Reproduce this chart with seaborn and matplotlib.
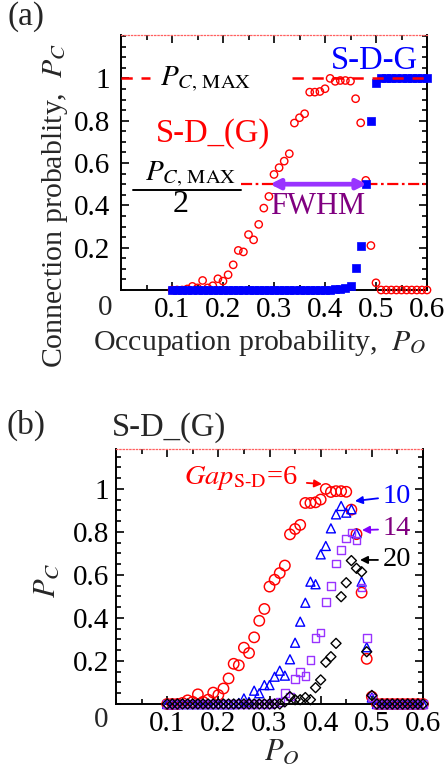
import matplotlib
matplotlib.use("Agg")
import matplotlib.pyplot as plt
import seaborn as sns
from matplotlib.lines import Line2D
from matplotlib.ticker import FixedLocator, MultipleLocator

# ---------------- data ----------------
po = [0.10, 0.11, 0.12, 0.13, 0.14, 0.15, 0.16, 0.17, 0.18, 0.19,
      0.20, 0.21, 0.22, 0.23, 0.24, 0.25, 0.26, 0.27, 0.28, 0.29,
      0.30, 0.31, 0.32, 0.33, 0.34, 0.35, 0.36, 0.37, 0.38, 0.39,
      0.40, 0.41, 0.42, 0.43, 0.44, 0.45, 0.46, 0.47, 0.48, 0.49,
      0.50, 0.51, 0.52, 0.53, 0.54, 0.55, 0.56, 0.57, 0.58, 0.59, 0.60]

# S-D_(G), Gap_S-D = 6
pc_gap6 = [0.0, 0.0, 0.0, 0.005, 0.017, 0.01, 0.045, 0.01, 0.02, 0.053,
           0.042, 0.072, 0.119, 0.187, 0.18, 0.262, 0.237, 0.31, 0.387, 0.442,
           0.546, 0.578, 0.609, 0.644, 0.789, 0.814, 0.833, 0.935, 0.935, 0.938,
           0.951, 1.0, 0.986, 0.99, 0.99, 0.987, 0.904, 0.79, 0.518, 0.21,
           0.034, 0.0, 0.0, 0.0, 0.0, 0.0, 0.0, 0.0, 0.0, 0.0, 0.0]

# S-D-G
pc_sdg = [0.0, 0.0, 0.0, 0.0, 0.0, 0.0, 0.0, 0.0, 0.0, 0.0,
          0.0, 0.0, 0.0, 0.0, 0.0, 0.0, 0.0, 0.0, 0.0, 0.0,
          0.0, 0.0, 0.0, 0.0, 0.0, 0.0, 0.0, 0.0, 0.0, 0.0,
          0.0, 0.0, 0.005, 0.006, 0.008, 0.02, 0.105, 0.21, 0.5, 0.798,
          0.98, 1.0, 1.0, 1.0, 1.0, 1.0, 1.0, 1.0, 1.0, 1.0, 1.0]

# Gap_S-D = 10
pc_gap10 = [0.0, 0.0, 0.0, 0.0, 0.0, 0.0, 0.0, 0.0, 0.0, 0.0,
            0.0, 0.0, 0.0, 0.0, 0.005, 0.026, 0.01, 0.062, 0.05, 0.088,
            0.088, 0.127, 0.155, 0.132, 0.208, 0.285, 0.383, 0.471, 0.569, 0.557,
            0.696, 0.735, 0.817, 0.882, 0.921, 0.89, 0.906, 0.794, 0.569, 0.264,
            0.03, 0.0, 0.0, 0.0, 0.0, 0.0, 0.0, 0.0, 0.0, 0.0, 0.0]

# Gap_S-D = 14
pc_gap14 = [0.0, 0.0, 0.0, 0.0, 0.0, 0.0, 0.0, 0.0, 0.0, 0.0,
            0.0, 0.0, 0.0, 0.0, 0.0, 0.0, 0.0, 0.0, 0.0, 0.0,
            0.0, 0.005, 0.01, 0.05, 0.035, 0.115, 0.15, 0.13, 0.205, 0.306,
            0.333, 0.473, 0.549, 0.654, 0.716, 0.77, 0.797, 0.76, 0.541, 0.306,
            0.03, 0.0, 0.0, 0.0, 0.0, 0.0, 0.0, 0.0, 0.0, 0.0, 0.0]

# Gap_S-D = 20
pc_gap20 = [0.0, 0.0, 0.0, 0.0, 0.0, 0.0, 0.0, 0.0, 0.0, 0.0,
            0.0, 0.0, 0.0, 0.0, 0.0, 0.0, 0.0, 0.0, 0.0, 0.0,
            0.0, 0.0, 0.0, 0.01, 0.034, 0.02, 0.02, 0.03, 0.02, 0.076,
            0.112, 0.194, 0.22, 0.282, 0.499, 0.564, 0.667, 0.631, 0.615, 0.243,
            0.04, 0.0, 0.0, 0.0, 0.0, 0.0, 0.0, 0.0, 0.0, 0.0, 0.0]

xticks = [0.1, 0.2, 0.3, 0.4, 0.5, 0.6]
xticklabels = ["0.1", "0.2", "0.3", "0.4", "0.5", "0.6"]
yticks = [0.2, 0.4, 0.6, 0.8, 1.0]
yticklabels = ["0.2", "0.4", "0.6", "0.8", "1"]
pc_max = 1.0

# ---------------- style ----------------
sns.set_theme(style="ticks")
plt.rcParams["font.family"] = ["Liberation Serif", "DejaVu Serif"]
plt.rcParams["mathtext.fontset"] = "stix"

RED = "#ff0000"
BLUE = "#0000ff"
VIOLET = "#9933ff"
PURPLE = "#800080"

W, H = 445, 769
fig = plt.figure(figsize=(W / 100, H / 100), dpi=100)
fig.patch.set_facecolor("white")


def fpos(x, y):
    return x / W, 1 - y / H


def ftext(x, y, s, **kw):
    kw.setdefault("ha", "center")
    kw.setdefault("va", "center")
    fig.text(*fpos(x, y), s, **kw)


ax_a = fig.add_axes([121 / W, 1 - 290 / H, 306 / W, 255 / H])
ax_b = fig.add_axes([116 / W, 1 - 704 / H, 307 / W, 255 / H])


def style(ax, ymax, ypad):
    ax.set_xlim(0, 0.6)
    ax.set_ylim(0, ymax)
    ax.xaxis.set_major_locator(FixedLocator(xticks))
    ax.set_xticklabels(xticklabels)
    ax.xaxis.set_minor_locator(MultipleLocator(0.05))
    ax.yaxis.set_major_locator(FixedLocator(yticks))
    ax.set_yticklabels(yticklabels)
    ax.yaxis.set_minor_locator(MultipleLocator(0.05))
    ax.tick_params(which="both", direction="in", top=True, right=True,
                   width=1.2, color="black")
    ax.tick_params(which="major", length=6)
    ax.tick_params(which="minor", length=3.5)
    ax.tick_params(axis="x", labelsize=21, pad=5, colors="black")
    ax.tick_params(axis="y", labelsize=21, pad=ypad, colors="black")
    for side in ["left", "right", "bottom"]:
        ax.spines[side].set_color("black")
        ax.spines[side].set_linewidth(1.4)
    ax.spines["top"].set_color("#ff6060")
    ax.spines["top"].set_linestyle(":")
    ax.spines["top"].set_linewidth(0.9)
    ax.set_xlabel("")
    ax.set_ylabel("")
    ax.set_facecolor("white")


# ---------------- panel (a) ----------------
sns.scatterplot(x=po, y=pc_gap6, ax=ax_a, marker="o", s=28, color=RED,
                facecolor="none", edgecolor=RED, linewidth=1.0,
                clip_on=False, zorder=3, legend=False)
sns.scatterplot(x=po, y=pc_sdg, ax=ax_a, marker="s", s=27, color=BLUE,
                edgecolor=BLUE, linewidth=0.5, clip_on=False, zorder=4,
                legend=False)

ax_a.axhline(pc_max, xmin=0, xmax=0.095, color=RED, lw=1.8,
             ls=(0, (4.5, 3.5)), zorder=5)
ax_a.axhline(pc_max, xmin=0.559, xmax=1, color=RED, lw=1.8,
             ls=(0, (4.5, 3.5)), zorder=5)
ax_a.axhline(pc_max / 2, xmin=0.392, xmax=1, color=RED, lw=1.6,
             ls=(0, (5, 1.6, 1.2, 1.6)), zorder=2)

ax_a.annotate("", xy=(0.292, pc_max / 2), xytext=(0.482, pc_max / 2),
              arrowprops=dict(arrowstyle="<|-|>", color=VIOLET, lw=3.4,
                              mutation_scale=14, shrinkA=0, shrinkB=0),
              zorder=6)

style(ax_a, 1.205, 8)

ftext(374, 61, "S-D-G", color=BLUE, fontsize=23.5)
ftext(206, 79, r"$P_{C,\,\mathrm{MAX}}$", color="black", fontsize=21)
ftext(213, 134, "S-D_(G)", color=RED, fontsize=23.5)
ftext(191, 174, r"$P_{C,\,\mathrm{MAX}}$", color="black", fontsize=21)
fig.add_artist(Line2D([133 / W, 241 / W], [1 - 190 / H, 1 - 190 / H],
                      color="black", lw=1.4))
ftext(181, 204, "2", color="black", fontsize=23)
ftext(318, 206, "FWHM", color=PURPLE, fontsize=22)

ftext(26, 17, "(a)", fontsize=24)
ftext(55, 205, r"Connection probablity,  $P_C$", rotation=90, fontsize=21.5)
ftext(260, 343, r"Occupation probability,  $P_O$", fontsize=21.5)
ftext(105, 308, "0", fontsize=21)

# ---------------- panel (b) ----------------
sns.scatterplot(x=po, y=pc_gap6, ax=ax_b, marker="o", s=56, color=RED,
                facecolor="none", edgecolor=RED, linewidth=1.05,
                clip_on=False, zorder=3, legend=False)
sns.scatterplot(x=po, y=pc_gap10, ax=ax_b, marker="^", s=42, color=BLUE,
                facecolor="none", edgecolor=BLUE, linewidth=1.0,
                clip_on=False, zorder=4, legend=False)
sns.scatterplot(x=po, y=pc_gap14, ax=ax_b, marker="s", s=30, color=VIOLET,
                facecolor="none", edgecolor=VIOLET, linewidth=1.0,
                clip_on=False, zorder=5, legend=False)
sns.scatterplot(x=po, y=pc_gap20, ax=ax_b, marker="D", s=26, color="black",
                facecolor="none", edgecolor="black", linewidth=1.0,
                clip_on=False, zorder=6, legend=False)

style(ax_b, 1.186, 5)

arrow_kw = dict(arrowstyle="-|>", lw=1.3, mutation_scale=11, shrinkB=0)
ax_b.annotate(r"$Gap_{\mathrm{S\text{-}D}}$=6", xy=(0.4026, 1.023),
              xytext=(0.2443, 1.051), ha="center", va="center",
              color=RED, fontsize=20.5,
              arrowprops=dict(color=RED, shrinkA=4, **arrow_kw))
ax_b.annotate("10", xy=(0.467, 0.944), xytext=(0.549, 0.967),
              ha="center", va="center", color=BLUE, fontsize=20.5,
              arrowprops=dict(color=BLUE, shrinkA=1, **arrow_kw))
ax_b.annotate("14", xy=(0.4808, 0.809), xytext=(0.549, 0.814),
              ha="center", va="center", color=PURPLE, fontsize=20.5,
              arrowprops=dict(color="#8000ff", shrinkA=1, **arrow_kw))
ax_b.annotate("20", xy=(0.4769, 0.670), xytext=(0.549, 0.670),
              ha="center", va="center", color="black", fontsize=20.5,
              arrowprops=dict(color="black", shrinkA=1, **arrow_kw))

ftext(26, 425, "(b)", fontsize=24)
ftext(169, 428, "S-D_(G)", fontsize=23.5)
ftext(47, 580, r"$P_C$", rotation=90, fontsize=22)
ftext(282, 752, r"$P_O$", fontsize=22)
ftext(101, 720, "0", fontsize=21)

fig.savefig("out.png", dpi=100, facecolor="white")
